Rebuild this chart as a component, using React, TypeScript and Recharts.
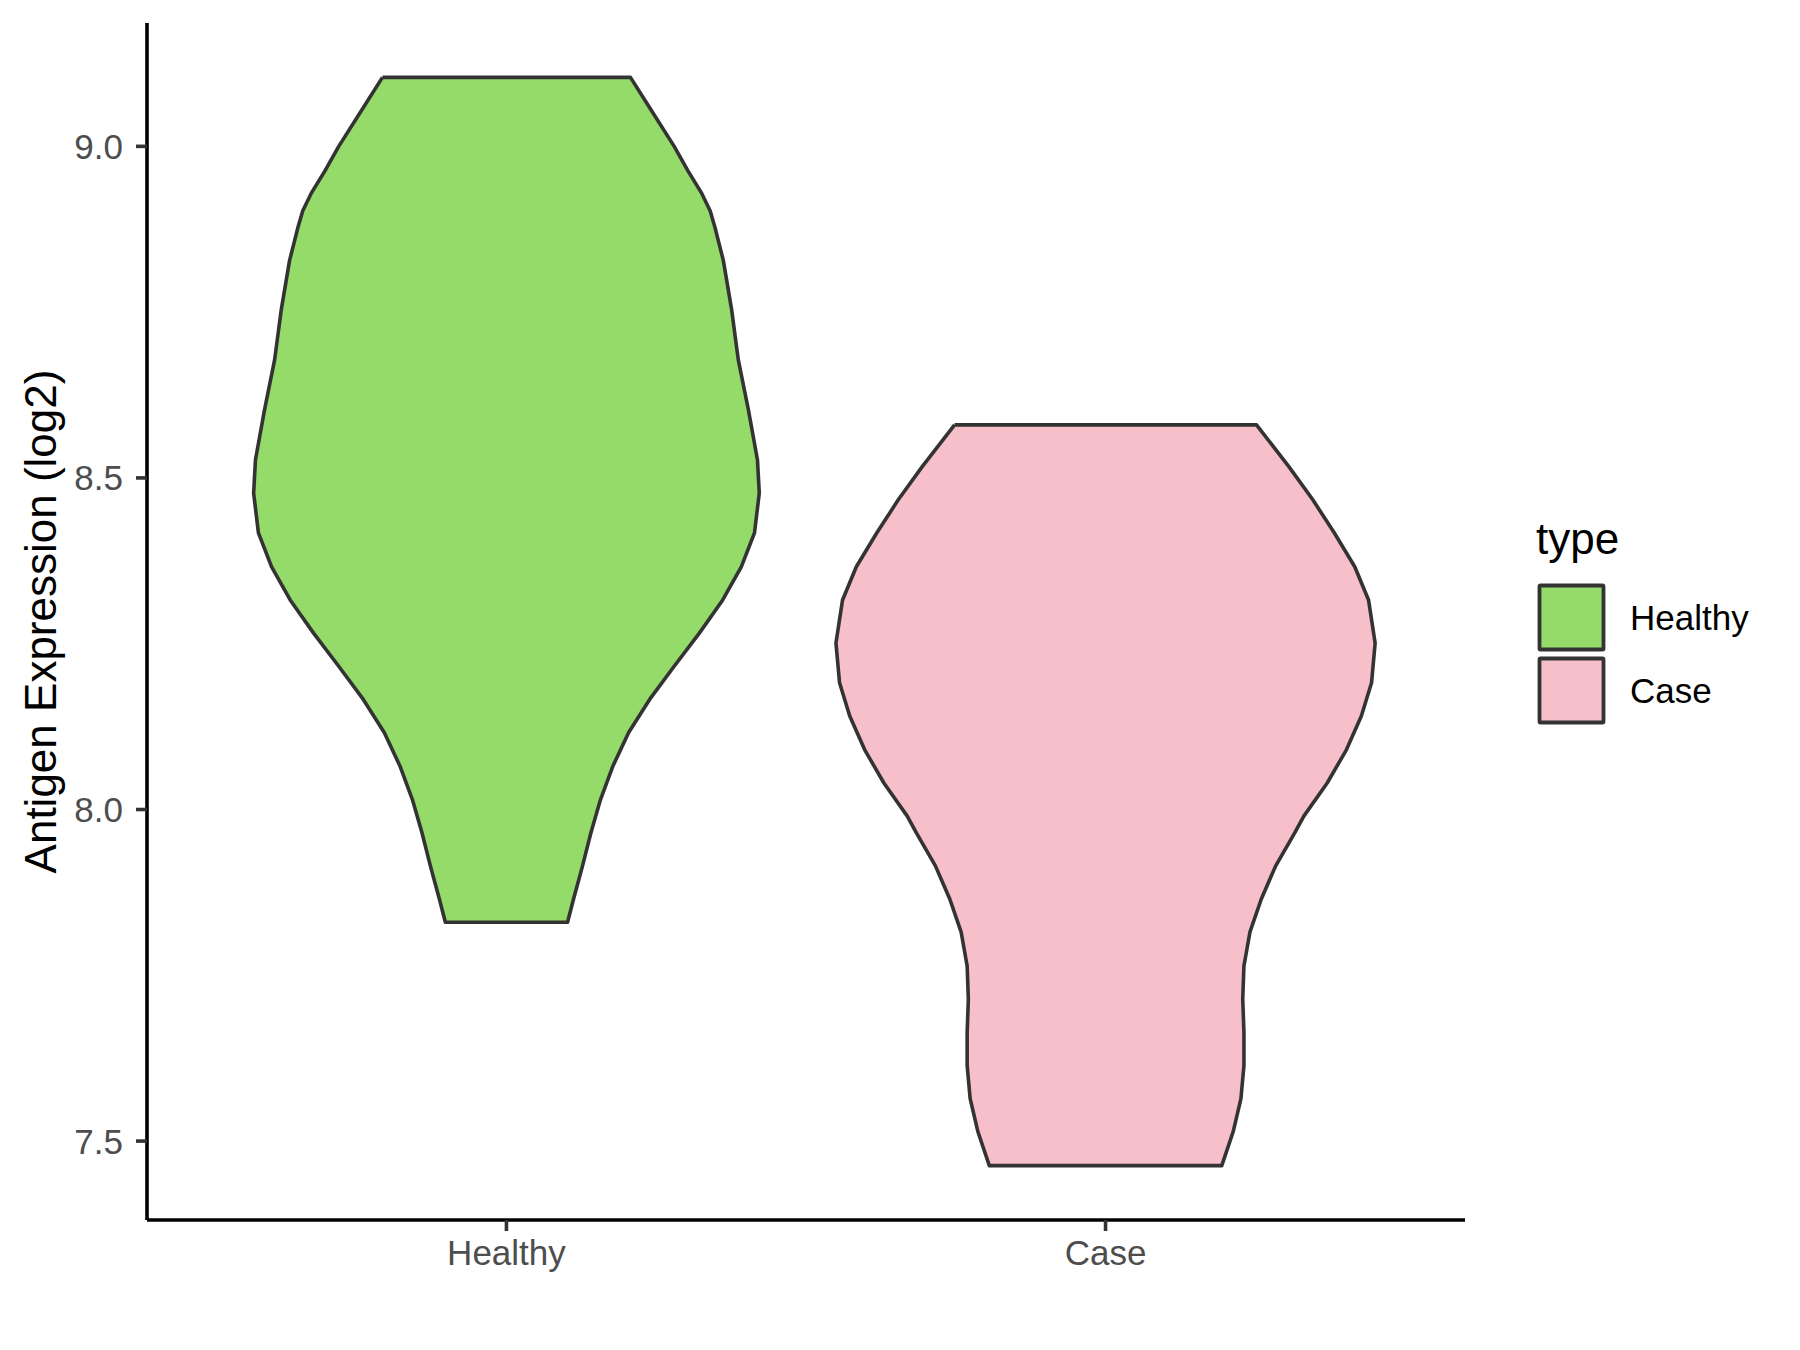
import { ComposedChart, Curve, Scatter, XAxis, YAxis } from "recharts";

const categories = ["Healthy", "Case"];
const categoryPositions = [1, 2];
const fillColors = ["#94DB6A", "#F7BFCA"];
const yTicks = [7.5, 8.0, 8.5, 9.0];

// violin outlines: expression value (top to bottom) and half width in category units
const healthyY = [
  9.104, 9.054, 9.0, 8.963, 8.929, 8.903, 8.878, 8.853, 8.828, 8.753, 8.678, 8.602,
  8.527, 8.477, 8.417, 8.366, 8.316, 8.266, 8.216, 8.166, 8.116, 8.066, 8.015, 7.965,
  7.915, 7.865, 7.83,
];
const healthyHalfWidth = [
  0.207, 0.242, 0.28, 0.303, 0.326, 0.34, 0.348, 0.355, 0.362, 0.376, 0.387, 0.404,
  0.419, 0.422, 0.414, 0.392, 0.361, 0.322, 0.28, 0.239, 0.204, 0.178, 0.157, 0.141,
  0.127, 0.112, 0.102,
];

const caseY = [
  8.58, 8.517, 8.467, 8.417, 8.366, 8.316, 8.251, 8.191, 8.141, 8.09, 8.04, 7.99,
  7.965, 7.915, 7.865, 7.815, 7.764, 7.714, 7.664, 7.614, 7.564, 7.514, 7.463,
];
const caseHalfWidth = [
  0.252, 0.306, 0.346, 0.382, 0.416, 0.439, 0.45, 0.444, 0.427, 0.402, 0.37, 0.331,
  0.316, 0.284, 0.26, 0.241, 0.231, 0.229, 0.231, 0.231, 0.226, 0.213, 0.194,
];

const FONT = "'Liberation Sans', Arial, sans-serif";
const OUTLINE = "#333333";

function outline(center: number, ys: number[], halfWidths: number[]) {
  const left = ys.map((y, i) => ({ x: center - halfWidths[i], y }));
  const right = ys.map((y, i) => ({ x: center + halfWidths[i], y })).reverse();
  return [...left, ...right, left[0]];
}

const violins = [
  outline(categoryPositions[0], healthyY, healthyHalfWidth),
  outline(categoryPositions[1], caseY, caseHalfWidth),
];

function YTitle({ viewBox }: any) {
  const cx = 40;
  const cy = viewBox.y + viewBox.height / 2;
  return (
    <text
      x={cx}
      y={cy}
      transform={`rotate(-90 ${cx} ${cy})`}
      textAnchor="middle"
      dominantBaseline="central"
      fontSize={44}
      fontFamily={FONT}
      fill="#000"
    >
      Antigen Expression (log2)
    </text>
  );
}

function TypeLegend() {
  return (
    <svg width={300} height={260} style={{ position: "absolute", left: 1500, top: 500 }}>
      <text x={36} y={54} fontSize={44} fontFamily={FONT} fill="#000">
        type
      </text>
      {categories.map((name, i) => (
        <g key={name}>
          <rect
            x={39.5}
            y={85.5 + i * 73}
            width={64}
            height={64}
            fill={fillColors[i]}
            stroke={OUTLINE}
            strokeWidth={3.8}
            rx={1}
          />
          <text
            x={130}
            y={117.5 + i * 73}
            fontSize={35}
            fontFamily={FONT}
            fill="#000"
            dominantBaseline="central"
          >
            {name}
          </text>
        </g>
      ))}
    </svg>
  );
}

const violinLine = (fill: string) => (props: any) => (
  <Curve
    points={props.points}
    type="linear"
    fill={fill}
    stroke={OUTLINE}
    strokeWidth={3.6}
    strokeLinejoin="round"
  />
);

export default function App() {
  return (
    <div style={{ position: "absolute", left: 0, top: 0, width: 1800, height: 1350, background: "#fff", fontFamily: FONT }}>
      <ComposedChart width={1800} height={1350} margin={{ top: 23, right: 335, bottom: 0, left: 0 }}>
        <XAxis
          type="number"
          dataKey="x"
          domain={[0.4, 2.6]}
          ticks={categoryPositions}
          interval={0}
          tickFormatter={(v: number) => categories[categoryPositions.indexOf(v)] ?? ""}
          height={130}
          tickSize={11}
          tickMargin={9}
          axisLine={{ stroke: "#000", strokeWidth: 3.6 }}
          tickLine={{ stroke: OUTLINE, strokeWidth: 3.6 }}
          tick={{ fill: "#4D4D4D", fontSize: 35, fontFamily: FONT }}
        />
        <YAxis
          type="number"
          dataKey="y"
          domain={[7.381, 9.186]}
          allowDataOverflow
          ticks={yTicks}
          interval={0}
          tickFormatter={(v: number) => v.toFixed(1)}
          width={147}
          tickSize={11}
          tickMargin={13}
          axisLine={{ stroke: "#000", strokeWidth: 3.6 }}
          tickLine={{ stroke: OUTLINE, strokeWidth: 3.6 }}
          tick={{ fill: "#4D4D4D", fontSize: 35, fontFamily: FONT }}
          label={{ content: YTitle }}
        />
        {violins.map((points, i) => (
          <Scatter
            key={categories[i]}
            name={categories[i]}
            data={points}
            fill={fillColors[i]}
            line={violinLine(fillColors[i])}
            lineType="joint"
            shape={() => <g />}
            isAnimationActive={false}
          />
        ))}
      </ComposedChart>
      <TypeLegend />
    </div>
  );
}
